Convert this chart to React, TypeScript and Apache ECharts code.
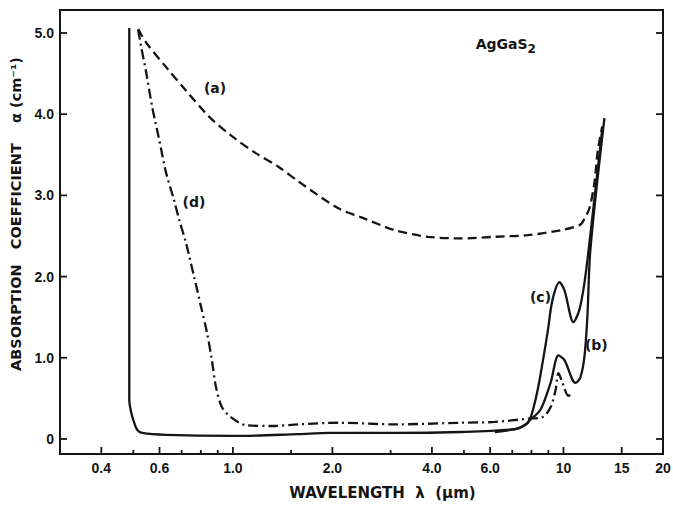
import React, { useEffect, useRef } from "react";
import * as echarts from "echarts";

// Axis ticks (wavelength in µm, log scale)
const xMajorTicks = [0.4, 0.6, 1.0, 2.0, 4.0, 6.0, 10, 15, 20];
const xMajorLabels = ["0.4", "0.6", "1.0", "2.0", "4.0", "6.0", "10", "15", "20"];
const xMinorTicks = [0.5, 0.7, 0.8, 0.9, 1.5, 3, 5, 7, 8, 9];
const yTicks = [0, 1, 2, 3, 4, 5];
const yTickLabels = ["0", "1.0", "2.0", "3.0", "4.0", "5.0"];

// Curve (a) – dashed
const lambdaA = [0.517, 0.547, 0.628, 0.722, 0.847, 1.0, 1.173, 1.376, 1.58, 2.086, 2.446, 3.097, 3.89, 4.89, 6.2, 7.79, 9.79, 11.25, 11.6, 12.0, 12.4, 12.7, 13.1];
const alphaA = [5.05, 4.88, 4.58, 4.29, 3.97, 3.72, 3.52, 3.35, 3.17, 2.84, 2.73, 2.57, 2.49, 2.47, 2.49, 2.51, 2.57, 2.64, 2.72, 2.85, 3.15, 3.55, 3.85];

// Curve (b) – solid
const lambdaB = [0.486, 0.486, 0.486, 0.493, 0.503, 0.514, 0.532, 0.628, 1.0, 1.58, 1.95, 3.1, 4.89, 7.12, 7.63, 7.9, 8.52, 9.14, 9.66, 10.07, 10.87, 11.25, 11.57, 11.81, 12.06, 13.3];
const alphaB = [5.06, 2.0, 0.48, 0.32, 0.2, 0.11, 0.074, 0.05, 0.037, 0.06, 0.074, 0.074, 0.086, 0.12, 0.17, 0.23, 0.36, 0.69, 1.03, 0.97, 0.69, 0.76, 1.01, 1.5, 2.33, 3.95];

// Curve (c) – solid
const lambdaC = [6.2, 7.12, 7.63, 7.9, 8.35, 8.95, 9.26, 9.73, 10.07, 10.72, 11.17, 11.57, 11.97, 13.1];
const alphaC = [0.086, 0.12, 0.17, 0.23, 0.6, 1.31, 1.71, 1.93, 1.83, 1.44, 1.59, 1.92, 2.4, 3.82];

// Curve (d) – dash-dot
const lambdaD = [0.517, 0.528, 0.547, 0.57, 0.599, 0.628, 0.664, 0.688, 0.722, 0.763, 0.801, 0.835, 0.864, 0.889, 0.927, 0.993, 1.094, 1.311, 1.58, 2.086, 3.1, 4.89, 6.2, 7.8, 8.65, 9.14, 9.46, 9.66, 9.93, 10.35, 10.64];
const alphaD = [5.04, 4.83, 4.51, 4.09, 3.68, 3.28, 2.94, 2.7, 2.41, 2.0, 1.63, 1.31, 0.97, 0.64, 0.39, 0.26, 0.17, 0.16, 0.18, 0.2, 0.18, 0.2, 0.21, 0.25, 0.27, 0.39, 0.6, 0.81, 0.69, 0.53, 0.58];

// Annotations (data coordinates)
const noteText = ["(a)", "(d)", "(c)", "(b)", "AgGaS{s|2}"];
const noteLambda = [0.883, 0.763, 8.52, 12.57, 6.69];
const noteAlpha = [4.32, 2.92, 1.75, 1.16, 4.86];

const lg = (v: number) => Math.log10(v);
const INK = "#151515";

export default function App() {
  const ref = useRef<HTMLDivElement>(null);
  useEffect(() => {
    if (!ref.current) return;
    const chart = echarts.init(ref.current, undefined, { renderer: "svg" });
    const pts = (ls: number[], as: number[]) => ls.map((l, i) => [lg(l), as[i]]);
    const xMin = lg(0.3);
    const xMax = lg(20);
    const yMin = -0.185;
    const yMax = 5.283;
    const MAJ = 7;
    const MIN = 4;
    // tick marks: [x, y, dx, dy] — base point in data space, direction in pixels
    const tickData: number[][] = [
      ...xMajorTicks.filter((t) => t < 20).map((t) => [lg(t), yMin, 0, -MAJ]),
      ...xMinorTicks.map((t) => [lg(t), yMin, 0, -MIN]),
      ...yTicks.map((v) => [xMin, v, MAJ, 0]),
      ...yTicks.map((v) => [xMax, v, -MAJ, 0]),
    ];
    const labelFont = { color: INK, fontFamily: "Liberation Sans", fontWeight: "bold", fontSize: 14 };
    chart.setOption({
      animation: false,
      backgroundColor: "#fff",
      grid: {
        left: 60, right: 10, top: 10, bottom: 51,
        outerBoundsMode: "none",
        containLabel: false,
        show: true, borderColor: INK, borderWidth: 2, backgroundColor: "transparent",
      },
      xAxis: {
        type: "value",
        min: xMin,
        max: xMax,
        position: "bottom",
        axisLine: { show: false, onZero: false },
        splitLine: { show: false },
        axisTick: { show: false },
        axisLabel: {
          customValues: xMajorTicks.map(lg),
          margin: 7,
          ...labelFont,
          formatter: (v: number) => {
            const i = xMajorTicks.findIndex((t) => Math.abs(lg(t) - v) < 1e-6);
            return i >= 0 ? xMajorLabels[i] : "";
          },
        },
        name: "WAVELENGTH  λ  (μm)",
        nameLocation: "middle",
        nameGap: 31,
        nameMoveOverlap: false,
        nameTextStyle: { color: INK, fontFamily: "DejaVu Sans", fontWeight: "bold", fontSize: 15, padding: [0, 0, 0, 42] },
      },
      yAxis: {
        type: "value",
        min: yMin,
        max: yMax,
        position: "left",
        axisLine: { show: false, onZero: false },
        splitLine: { show: false },
        axisTick: { show: false },
        axisLabel: {
          customValues: yTicks,
          margin: 6,
          ...labelFont,
          formatter: (v: number) => {
            const i = yTicks.findIndex((t) => Math.abs(t - v) < 1e-6);
            return i >= 0 ? yTickLabels[i] : "";
          },
        },
        name: "ABSORPTION   COEFFICIENT    α (cm⁻¹)",
        nameLocation: "middle",
        nameGap: 37,
        nameRotate: 90,
        nameMoveOverlap: false,
        nameTextStyle: { color: INK, fontFamily: "DejaVu Sans", fontWeight: "bold", fontSize: 14.5, padding: [0, 0, 0, 36] },
      },
      series: [
        { name: "(a)", type: "line", data: pts(lambdaA, alphaA), smooth: 0.3, symbol: "none", lineStyle: { color: INK, width: 2.3, type: [9, 5] } },
        { name: "(b)", type: "line", data: pts(lambdaB, alphaB), smooth: 0.3, symbol: "none", lineStyle: { color: INK, width: 2.3 } },
        { name: "(c)", type: "line", data: pts(lambdaC, alphaC), smooth: 0.3, symbol: "none", lineStyle: { color: INK, width: 2.3 } },
        { name: "(d)", type: "line", data: pts(lambdaD, alphaD), smooth: 0.3, symbol: "none", lineStyle: { color: INK, width: 2.3, type: [10, 4, 2, 4] } },
        {
          name: "ticks",
          type: "custom",
          silent: true,
          clip: false,
          data: tickData,
          renderItem: (_params: any, api: any) => {
            const p = api.coord([api.value(0), api.value(1)]);
            return {
              type: "line",
              shape: { x1: p[0], y1: p[1], x2: p[0] + api.value(2), y2: p[1] + api.value(3) },
              style: { stroke: INK, lineWidth: 1.8 },
            };
          },
        },
        {
          name: "notes",
          type: "scatter",
          symbolSize: 0,
          silent: true,
          itemStyle: { opacity: 1 },
          data: noteLambda.map((l, i) => [lg(l), noteAlpha[i], noteText[i]]),
          label: {
            show: true,
            position: "inside",
            color: INK,
            opacity: 1,
            fontFamily: "DejaVu Sans",
            fontWeight: "bold",
            fontSize: 14,
            formatter: (p: any) => p.data[2],
            rich: { s: { fontFamily: "DejaVu Sans", fontWeight: "bold", fontSize: 12, color: INK, padding: [10, 0, 0, 0] } },
          },
        },
      ],
    });
    return () => chart.dispose();
  }, []);
  return <div ref={ref} style={{ width: 673, height: 505, position: "absolute", left: 0, top: 0 }} />;
}
